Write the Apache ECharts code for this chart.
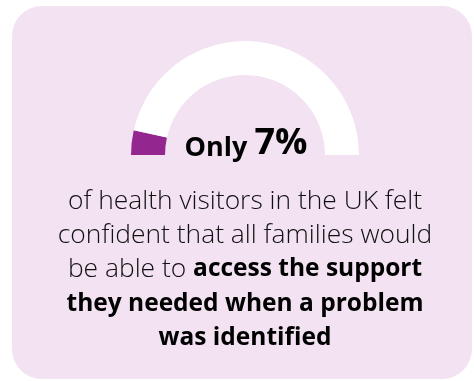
<!DOCTYPE html>
<html>
<head>
<meta charset="utf-8">
<script src="https://cdn.jsdelivr.net/npm/echarts@6/dist/echarts.min.js"></script>
<style>
html,body{margin:0;padding:0;background:#fff;}
#c{width:474px;height:381px;}
</style>
</head>
<body>
<div id="c"></div>
<script>
// Data
var categories = ['Felt confident', 'Did not feel confident'];
var values = [7, 93];
var headlineLabel = 'Only';
var headlineValue = '7%';
var bodyLines = [
  [['l', 'of health visitors in the UK felt']],
  [['l', 'confident that all families would']],
  [['l', 'be able to '], ['b', 'access the support']],
  [['b', 'they needed when a problem']],
  [['b', 'was identified']]
];

var chart = echarts.init(document.getElementById('c'), null, {renderer: 'canvas'});
var total = values.reduce(function (a, b) { return a + b; }, 0);
var pieData = [
  {name: categories[0], value: values[0], itemStyle: {color: '#93278f'}},
  {name: categories[1], value: values[1], itemStyle: {color: '#ffffff'}},
  {name: 'hidden', value: total, itemStyle: {color: 'rgba(0,0,0,0)'}}
];
var bodyText = bodyLines.map(function (line) {
  return line.map(function (seg) { return '{' + seg[0] + '|' + seg[1] + '}'; }).join('');
}).join('\n');

chart.setOption({
  animation: false,
  graphic: [
    {
      type: 'rect', z: 0, silent: true,
      shape: {x: 12, y: 6, width: 460, height: 373, r: 30},
      style: {fill: '#f2e2f2'}
    },
    {
      type: 'text', z: 10, silent: true,
      x: 246, y: 162,
      style: {
        text: '{a|' + headlineLabel + ' }{v|' + headlineValue + '}',
        align: 'center', verticalAlign: 'bottom',
        rich: {
          a: {fontFamily: 'Open Sans', fontWeight: 'bold', fontSize: 27, fill: '#000', lineHeight: 40, verticalAlign: 'bottom'},
          v: {fontFamily: 'Open Sans', fontWeight: 'bold', fontSize: 36, fill: '#000', lineHeight: 40, verticalAlign: 'bottom'}
        }
      }
    },
    {
      type: 'text', z: 10, silent: true,
      x: 245, y: 184,
      style: {
        text: bodyText,
        align: 'center', verticalAlign: 'top',
        rich: {
          l: {fontFamily: 'Open Sans', fontWeight: 300, fontSize: 26.4, fill: '#111', lineHeight: 34.2},
          b: {fontFamily: 'Open Sans', fontWeight: 'bold', fontSize: 24.5, fill: '#000', lineHeight: 34.2}
        }
      }
    }
  ],
  series: [{
    type: 'pie',
    z: 5,
    silent: true,
    center: [245, 155],
    radius: [80, 114],
    startAngle: 180,
    clockwise: true,
    label: {show: false},
    labelLine: {show: false},
    emphasis: {disabled: true},
    itemStyle: {borderWidth: 0},
    data: pieData
  }]
});
</script>
</body>
</html>
